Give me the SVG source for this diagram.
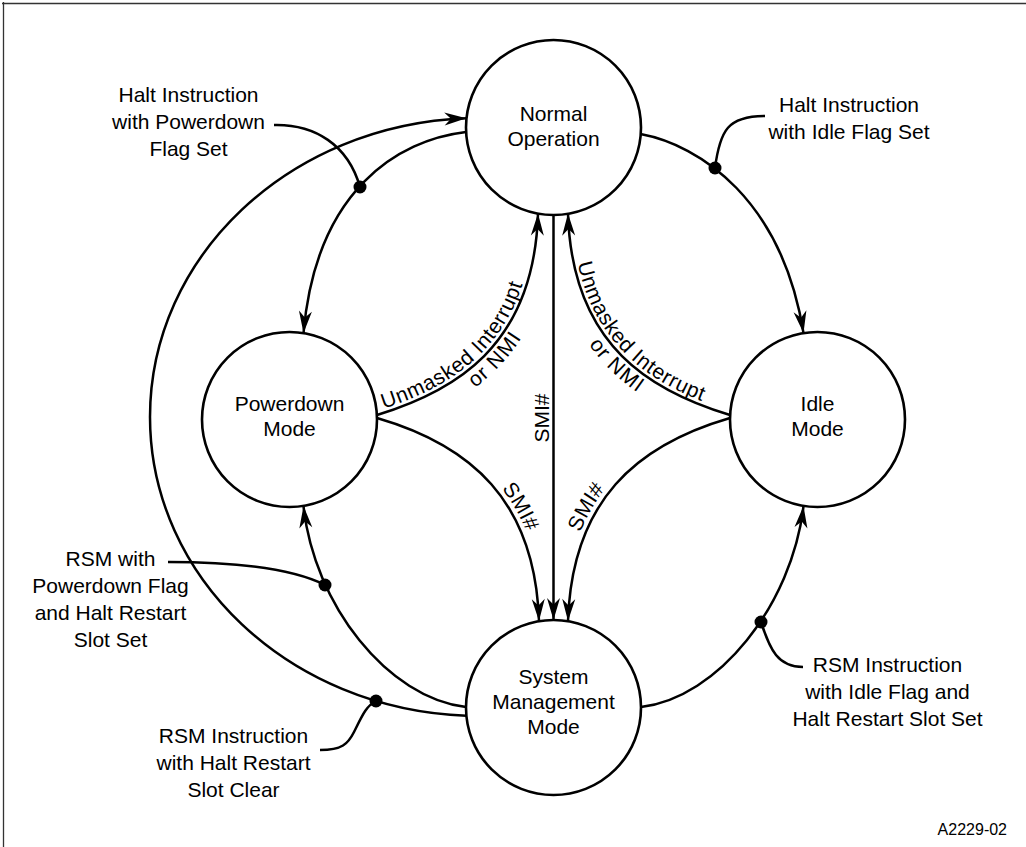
<svg xmlns="http://www.w3.org/2000/svg" width="1026" height="847" viewBox="0 0 1026 847">
<style>
  text { font-family: "Liberation Sans", Arial, Helvetica, sans-serif; font-size: 21px; fill: #000; }
  .c { text-anchor: middle; }
  .sp { letter-spacing: 0.8px; }
  .small { font-size: 16px; text-anchor: end; }
  .node circle { fill: #fff; stroke: #000; stroke-width: 2.6; }
  .edge { fill: none; stroke: #000; stroke-width: 2.5; }
  .arrow { marker-end: url(#arr); }
  .dot { fill: #000; }
  .frame { stroke: #333; stroke-width: 1.3; fill: none; }
</style>
<defs>
  <marker id="arr" viewBox="-23 -8 24 16" refX="0" refY="0" markerWidth="24" markerHeight="16" markerUnits="userSpaceOnUse" orient="auto">
    <path d="M0,0 L-22,-6.5 L-15.5,0 L-22,6.5 Z" fill="#000"/>
  </marker>
  <path id="tp-idle-n" d="M 568 214 C 572 348 654 392 730 415"/>
  <path id="tp-idle-smm" d="M 568 621 C 572 500 637 445 730 418"/>
</defs>

<g id="frame">
  <path class="frame" d="M 2 3.5 H 1026 M 3.5 2 V 847"/>
</g>

<g id="connectors">
  <path id="c-n-pd" class="edge arrow" d="M 466 132 C 398 140 316 190 303.5 333"/>
  <path id="c-n-idle" class="edge arrow" d="M 640.5 134 C 700 145 782 200 803.5 333"/>
  <path id="c-pd-n" class="edge arrow" d="M 377 415 C 452 392 534 348 538 213.6"/>
  <path id="c-idle-n" class="edge arrow" d="M 730 415 C 654 392 572 348 568 213.6"/>
  <path id="c-n-smm" class="edge arrow" d="M 553.5 215 L 553.5 620"/>
  <path id="c-pd-smm" class="edge arrow" d="M 377 418 C 470 445 535 500 539 621"/>
  <path id="c-idle-smm" class="edge arrow" d="M 730 418 C 637 445 572 500 568 621"/>
  <path id="c-smm-pd" class="edge arrow" d="M 466 707 C 388 698 314 605 303.5 506"/>
  <path id="c-smm-idle" class="edge arrow" d="M 641 707 C 718 698 792 605 803.5 506"/>
  <path id="c-smm-n" class="edge arrow" d="M 466.4 715.8 C 289 709.3 150 577.4 150 417 C 150 256.6 289 124.7 466.4 118.2"/>

  <g id="leaders">
    <path class="edge" d="M 274 125 C 315 124 348 145 360 187"/>
    <path class="edge" d="M 765 116 C 728 116 720 130 715 168"/>
    <path class="edge" d="M 168 562 C 250 562 297 571 325 585"/>
    <path class="edge" d="M 320 750 C 342 750 348 744 354 732 C 362 716 366 706 376 701"/>
    <path class="edge" d="M 803 667 C 778 667 770 650 761 622"/>
  </g>
  <g id="junctions">
    <circle class="dot" cx="360" cy="187" r="6.5"/>
    <circle class="dot" cx="715" cy="168" r="6.5"/>
    <circle class="dot" cx="325" cy="585" r="6.5"/>
    <circle class="dot" cx="376" cy="701" r="6.5"/>
    <circle class="dot" cx="761" cy="622" r="6.5"/>
  </g>

  <g id="edge-labels">
    <text class="c sp" dy="-4"><textPath href="#c-pd-n" startOffset="108">Unmasked Interrupt</textPath></text>
    <text class="c" dy="18"><textPath href="#c-pd-n" startOffset="128">or NMI</textPath></text>
    <text class="c sp" dy="-4"><textPath href="#tp-idle-n" startOffset="150">Unmasked Interrupt</textPath></text>
    <text class="c" dy="18"><textPath href="#tp-idle-n" startOffset="158">or NMI</textPath></text>
    <text class="c" dy="-5"><textPath href="#c-pd-smm" startOffset="168">SMI#</textPath></text>
    <text class="c" dy="-5"><textPath href="#tp-idle-smm" startOffset="113">SMI#</textPath></text>
    <text class="c" transform="translate(549,418) rotate(-90)">SMI#</text>

    <text class="c" x="188.5" y="102">Halt Instruction</text>
    <text class="c" x="188.5" y="129">with Powerdown</text>
    <text class="c" x="188.5" y="156">Flag Set</text>

    <text class="c" x="849" y="112">Halt Instruction</text>
    <text class="c" x="849" y="139">with Idle Flag Set</text>

    <text class="c" x="110.5" y="566">RSM with</text>
    <text class="c" x="110.5" y="593">Powerdown Flag</text>
    <text class="c" x="110.5" y="620">and Halt Restart</text>
    <text class="c" x="110.5" y="647">Slot Set</text>

    <text class="c" x="233.5" y="743">RSM Instruction</text>
    <text class="c" x="233.5" y="770">with Halt Restart</text>
    <text class="c" x="233.5" y="797">Slot Clear</text>

    <text class="c" x="887.5" y="672">RSM Instruction</text>
    <text class="c" x="887.5" y="699">with Idle Flag and</text>
    <text class="c" x="887.5" y="726">Halt Restart Slot Set</text>
  </g>
</g>

<g id="node-normal" class="node">
  <circle cx="553.5" cy="127.5" r="87.5"/>
  <text class="c" x="553.5" y="121">Normal</text>
  <text class="c" x="553.5" y="146">Operation</text>
</g>
<g id="node-powerdown" class="node">
  <circle cx="289.5" cy="419.5" r="87.5"/>
  <text class="c" x="289.5" y="411">Powerdown</text>
  <text class="c" x="289.5" y="436">Mode</text>
</g>
<g id="node-idle" class="node">
  <circle cx="817.5" cy="419.5" r="87.5"/>
  <text class="c" x="817.5" y="411">Idle</text>
  <text class="c" x="817.5" y="436">Mode</text>
</g>
<g id="node-smm" class="node">
  <circle cx="553.5" cy="707.5" r="87.5"/>
  <text class="c" x="553.5" y="684">System</text>
  <text class="c" x="553.5" y="709">Management</text>
  <text class="c" x="553.5" y="734">Mode</text>
</g>

<g id="figure-id">
  <text class="small" x="1007" y="835">A2229-02</text>
</g>
</svg>
